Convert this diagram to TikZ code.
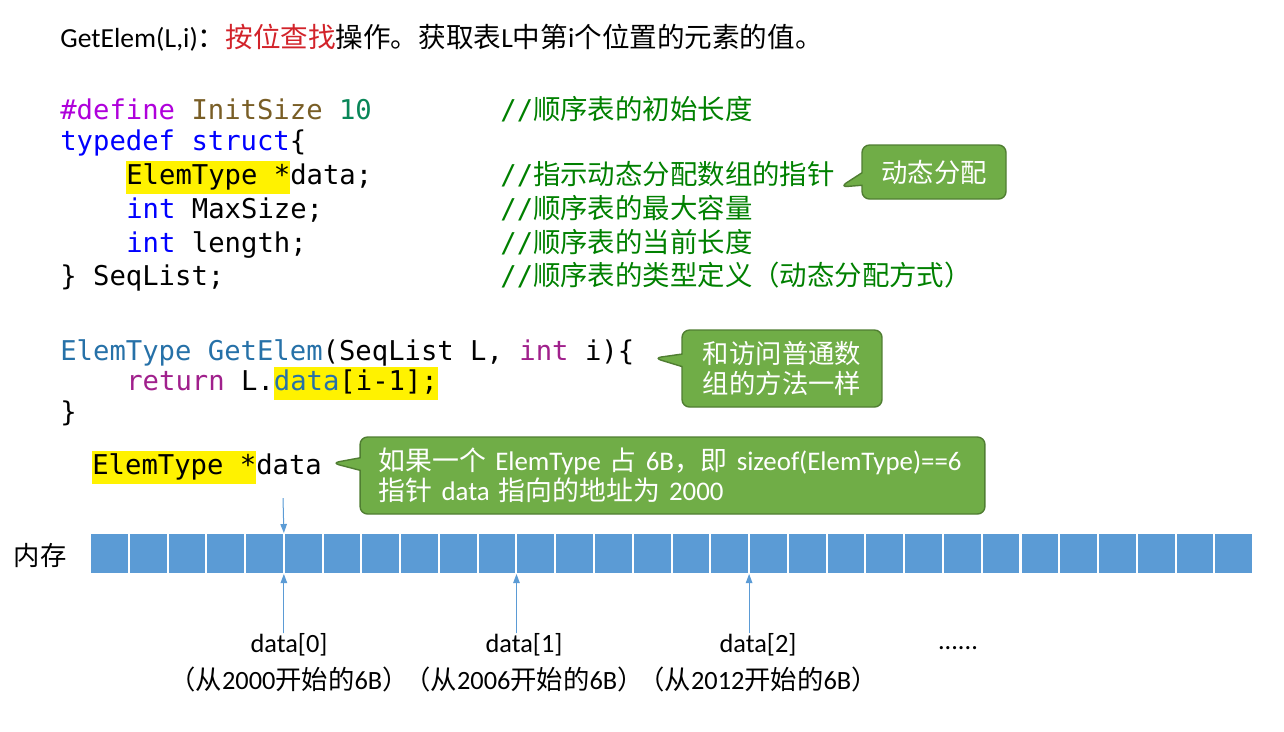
\documentclass[tikz,border=0pt]{standalone}
\usepackage{fontspec}
\setmainfont{Carlito}
\setmonofont{DejaVu Sans Mono}
\newfontfamily\hanzi{Noto Sans CJK SC}
\usetikzlibrary{arrows.meta,positioning,shapes.callouts}

\definecolor{kwpurple}{RGB}{175,0,219}
\definecolor{macrobrown}{RGB}{121,94,38}
\definecolor{numgreen}{RGB}{9,134,88}
\definecolor{kwblue}{RGB}{0,0,255}
\definecolor{cmtgreen}{RGB}{0,128,0}
\definecolor{typeblue}{RGB}{38,113,168}
\definecolor{retpurple}{RGB}{160,32,140}
\definecolor{titlered}{RGB}{210,35,42}
\definecolor{memblue}{RGB}{91,155,213}
\definecolor{notegreen}{RGB}{112,173,71}
\definecolor{noteedge}{RGB}{80,126,50}

\newcommand\zh[1]{{\hanzi #1}}
\newcommand\hlbox[1]{{\setlength\fboxsep{0pt}\colorbox{yellow}{\strut #1}}}
\newcommand\cmt[1]{\textcolor{cmtgreen}{//{\hanzi\fontsize{15.6}{19}\selectfont #1}}}

\begin{document}
\begin{tikzpicture}[
  x=0.02cm, y=-0.02cm,
  txt/.style={font=\fontsize{15}{18}\selectfont, inner sep=0pt},
  code/.style={font=\ttfamily\fontsize{15.5}{19}\selectfont, inner sep=0pt, anchor=base west},
  note/.style={rectangle callout, fill=notegreen, draw=noteedge, line width=0.8pt,
               rounded corners=1.5mm, text=white, font=\fontsize{15}{17}\selectfont,
               align=left, inner sep=0pt},
  cell/.style={fill=memblue, draw=white, line width=0.4mm, minimum width=0.775cm,
               minimum height=0.82cm, inner sep=0pt, outer sep=0pt},
  arr/.style={-{Triangle[length=1.8mm,width=1.3mm]}, draw=memblue, fill=memblue, line width=0.2mm}
]
\useasboundingbox (0,0) rectangle (1284,731);

% title line
\node[txt, anchor=base west, font=\fontsize{15.7}{18}\selectfont] (title) at (60,47)
  {GetElem(L,i)\zh{：}\textcolor{titlered}{\zh{按位查找}}\zh{操作。获取表}L\zh{中第}i\zh{个位置的元素的值。}};

% struct definition
\node[code] (def) at (60,119) {\textcolor{kwpurple}{\#define} \textcolor{macrobrown}{InitSize} \textcolor{numgreen}{10}};
\node[code] (cdef) at (500,119) {\cmt{顺序表的初始长度}};
\node[code] (tdef) at (60,150) {\textcolor{kwblue}{typedef struct}\{};
\node[code] (fdata) at (126,184) {\hlbox{ElemType *}data;};
\node[code] (cdata) at (500,184) {\cmt{指示动态分配数组的指针}};
\node[code] (fmax) at (126,218) {\textcolor{kwblue}{int} MaxSize;};
\node[code] (cmax) at (500,218) {\cmt{顺序表的最大容量}};
\node[code] (flen) at (126,252) {\textcolor{kwblue}{int} length;};
\node[code] (clen) at (500,252) {\cmt{顺序表的当前长度}};
\node[code] (tend) at (60,285) {\} SeqList;};
\node[code] (ctype) at (500,285) {\cmt{顺序表的类型定义（动态分配方式）}};

% GetElem
\node[code] (fhead) at (60,360) {\textcolor{typeblue}{ElemType GetElem}(SeqList L, \textcolor{retpurple}{int} i)\{};
\node[code] (fret) at (126,390) {\textcolor{retpurple}{return} L.\hlbox{\textcolor{typeblue}{data}[i-1];}};
\node[code] (fend) at (60,421) {\}};

% callouts
\coordinate (tip1) at (840,187);
\node[note, callout absolute pointer={(tip1)}, minimum width=2.88cm, minimum height=1.08cm, align=center]
  (dyn) at (934,172) {\zh{动态分配}};
\coordinate (tip2) at (654,358);
\node[note, callout absolute pointer={(tip2)}, minimum width=4cm, minimum height=1.54cm]
  (same) at (782,368.5) {\zh{和访问普通数}\\\zh{组的方法一样}};
\coordinate (tip3) at (332,463);
\node[note, callout absolute pointer={(tip3)}, minimum width=12.5cm, minimum height=1.54cm, text width=11.75cm,
      font=\fontsize{15.3}{17}\selectfont]
  (size) at (672.5,475.5)
  {\zh{如果一个} ElemType \zh{占} 6B\zh{，即} sizeof(ElemType)==6\\\zh{指针} data \zh{指向的地址为} 2000};

% pointer variable
\node[code] (ptrvar) at (92,474) {\hlbox{ElemType *}data};

% memory
\node[txt, font=\hanzi\fontsize{15}{18}\selectfont] (mem) at (40,555) {内存};
\foreach \i in {0,...,29}
  \node[cell] (c\i) at ({90+38.77*(\i+0.5)},553.5) {};

\coordinate (ptrtop) at (283,498);
\draw[arr] (ptrtop) -- (c5.north west);

% element labels
\node[txt] (d0) at (289,645) {data[0]};
\node[txt] (d1) at (524,645) {data[1]};
\node[txt] (d2) at (758,645) {data[2]};
\node[txt] (more) at (958,648) {......};
\node[txt, below=2mm of d0] (a0) {\zh{（从}2000\zh{开始的}6B\zh{）}};
\node[txt, below=2mm of d1] (a1) {\zh{（从}2006\zh{开始的}6B\zh{）}};
\node[txt, below=2mm of d2] (a2) {\zh{（从}2012\zh{开始的}6B\zh{）}};

\draw[arr] (c5.south west |- d0.north) -- (c5.south west);
\draw[arr] (c11.south west |- d1.north) -- (c11.south west);
\draw[arr] (c17.south west |- d2.north) -- (c17.south west);
\end{tikzpicture}
\end{document}
